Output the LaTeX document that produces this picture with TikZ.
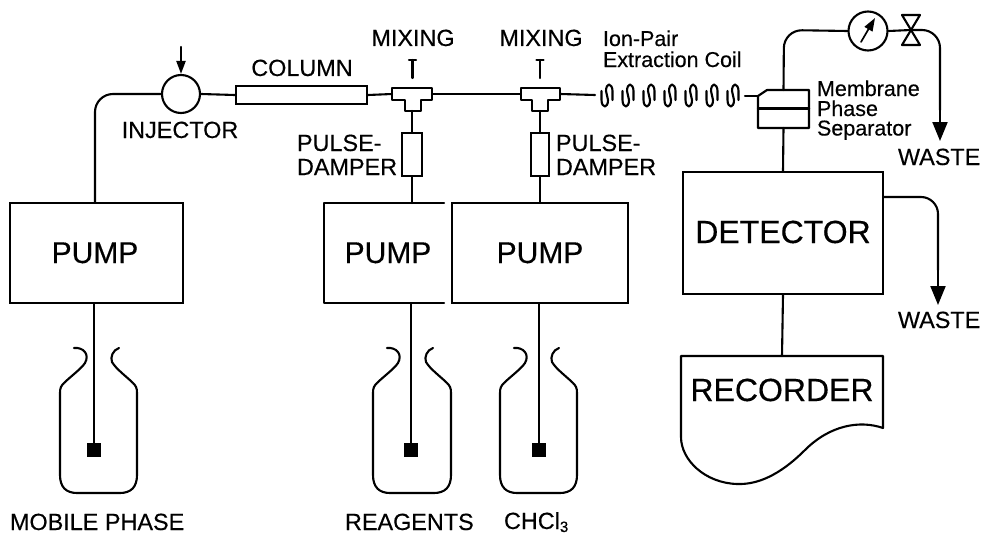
\documentclass[tikz,border=0pt]{standalone}
\usepackage{fontspec}
\setmainfont{Liberation Sans}[FakeBold=0.35]
\usetikzlibrary{arrows.meta}
\tikzset{
  pipe/.style={line width=2.1pt,line cap=round,line join=round},
  thinpipe/.style={line width=1.7pt},
  box/.style={draw,line width=2.1pt,inner sep=0pt},
  ghost/.style={inner sep=0pt,outer sep=0pt},
  lab/.style={inner sep=0pt,outer sep=0pt,anchor=base west,font=\fontsize{23.4}{26}\selectfont},
  labc/.style={inner sep=0pt,outer sep=0pt,anchor=base,font=\fontsize{23.4}{26}\selectfont},
  small/.style={inner sep=0pt,outer sep=0pt,anchor=base west,font=\fontsize{21.5}{24}\selectfont},
  big/.style={inner sep=0pt,outer sep=0pt,anchor=base,font=\fontsize{30}{32}\selectfont},
  huge/.style={inner sep=0pt,outer sep=0pt,anchor=base,font=\fontsize{32}{34}\selectfont},
  bighead/.style={-{Triangle[width=15pt,length=19pt]}},
  smallhead/.style={-{Triangle[width=9pt,length=13pt]}},
}
\newcommand{\mybottle}[3]{%
  % #1 left x, #2 right x, #3 name of weight
  \draw[pipe] ({#1+14},348) .. controls ({#1+23},347) and ({#1+30},354) .. ({#1+25},363)
    .. controls ({#1+21},369) and ({#1+10},377) .. ({#1+4},383)
    .. controls ({#1+1},386) and (#1,388) .. (#1,393) -- (#1,475)
    .. controls (#1,487) and ({#1+6},493) .. ({#1+17},493) -- ({#2-17},493)
    .. controls ({#2-6},493) and (#2,487) .. (#2,475) -- (#2,393)
    .. controls (#2,388) and ({#2-1},386) .. ({#2-4},383)
    .. controls ({#2-10},377) and ({#2-21},369) .. ({#2-25},362)
    .. controls ({#2-27},357) and ({#2-24},350) .. ({#2-18},348);
}
\newcommand{\mycoil}[1]{%
  \draw[pipe] ({#1-5.5},91) -- ({#1-5.5},100)
    .. controls ({#1-5.5},104.5) and ({#1-3.5},106.5) .. ({#1-2},106.5)
    .. controls ({#1-0.5},106.5) and ({#1+1},104) .. ({#1+1},100)
    -- ({#1-1},91)
    .. controls ({#1-1},87) and ({#1+0.5},84.5) .. ({#1+2},84.5)
    .. controls ({#1+3.5},84.5) and ({#1+5.5},87) .. ({#1+5.5},91) -- ({#1+5.5},100);
}
\begin{document}
\begin{tikzpicture}[x=1pt,y=-1pt]
\useasboundingbox (0,0) rectangle (985,535);
% pumps
\node[box,minimum width=173pt,minimum height=100pt] (pumpa) at (96.5,253) {};
\node[ghost,minimum width=120pt,minimum height=100pt] (pumpb) at (384,253) {};
\draw[pipe] (pumpb.north east) -- (pumpb.north west) -- (pumpb.south west) -- (pumpb.south east);
\node[box,minimum width=176pt,minimum height=100pt] (pumpc) at (540,253) {};
\node[big] (pumpatxt) at (95,263) {PUMP};
\node[big] (pumpbtxt) at (388,263) {PUMP};
\node[big] (pumpctxt) at (540,263) {PUMP};
% injector and column
\node[box,circle,minimum size=38pt] (inj) at (181,94) {};
\coordinate (injin) at (181,47);
\draw[pipe,smallhead] (injin) -- (inj.north);
\node[box,minimum width=131pt,minimum height=18pt] (col) at (301.5,95) {};
\draw[pipe,rounded corners=18pt] (inj.west) -- (95,94) -- (pumpa.north -| 95,203);
\draw[pipe] (inj.east) -- (col.west);
% mixing tees
\node[ghost,minimum width=40pt,minimum height=12pt] (teea) at (412,94) {};
\node[ghost,minimum width=40pt,minimum height=12pt] (teeb) at (540.5,94) {};
\draw[pipe] (392,88) -- (432,88) -- (432,100) -- (421,100) -- (421,111) -- (405,111) -- (405,100) -- (392,100) -- cycle;
\draw[pipe] (521,88) -- (560,88) -- (560,100) -- (548,100) -- (548,111) -- (532,111) -- (532,100) -- (521,100) -- cycle;
\coordinate (teeabot) at (412,111);
\coordinate (teebbot) at (540,111);
\draw[pipe] (col.east) -- (teea.west);
\draw[pipe] (teea.east) -- (teeb.west);
\coordinate (coilin) at (595,95);
\draw[pipe] (teeb.east) -- (coilin);
% mixing pins
\coordinate (pinatop) at (412.5,60);
\coordinate (pinabot) at (412.5,78);
\coordinate (pinbtop) at (540,60);
\coordinate (pinbbot) at (540,78);
\draw[pipe] (pinatop) -- (pinabot);
\draw[pipe] (409,60) -- (416,60);
\draw[pipe] (pinbtop) -- (pinbbot);
\draw[pipe] (536.5,60) -- (543.5,60);
% dampers
\node[box,minimum width=20pt,minimum height=43pt] (dampa) at (412,154.5) {};
\node[box,minimum width=18pt,minimum height=43pt] (dampb) at (540,154.5) {};
\draw[pipe] (teeabot) -- (dampa.north);
\draw[pipe] (teebbot) -- (dampb.north);
\draw[pipe] (dampa.south) -- (412,203);
\draw[pipe] (dampb.south) -- (pumpc.north);
% coil
\foreach \cx in {607,628,649,670,691,712,733}{\mycoil{\cx}}
\coordinate (coilout) at (745,96);
% separator
\node[ghost,minimum width=51pt,minimum height=38pt] (sep) at (783.5,109) {};
\draw[pipe] (758,96) -- (767,90) -- (809,90) -- (809,128) -- (758,128) -- cycle;
\draw[pipe,line width=2.4pt] (758,108.5) -- (809,108.5);
\draw[pipe] (coilout) -- (sep.west |- 0,96);
% gauge, valve
\node[box,circle,minimum size=39pt] (gauge) at (868,31) {};
\coordinate (gaugea) at (861,42);
\coordinate (gaugeb) at (875,18);
\draw[pipe,line width=1.7pt,smallhead] (gaugea) -- (gaugeb);
\node[ghost,minimum width=18pt,minimum height=30pt] (valve) at (911,30) {};
\draw[pipe] (902,15) -- (920,15) -- (902,45) -- (920,45) -- cycle;
\coordinate (wastea) at (940,141);
\draw[pipe,rounded corners=18pt] (sep.north) -- (784,30) -- (gauge.west);
\draw[pipe] (gauge.east) -- (valve.center);
\draw[pipe,rounded corners=18pt] (valve.center) -- (940,30) -- (940,110);
\draw[pipe,bighead,shorten >=0pt] (940,100) -- (wastea);
% detector
\node[box,minimum width=200pt,minimum height=122pt] (det) at (783,233) {};
\node[huge] (dettxt) at (783,243) {DETECTOR};
\draw[pipe] (sep.south) -- (det.north);
\coordinate (wasteb) at (938,305);
\draw[pipe,rounded corners=17pt] (det.east |- 0,197) -- (938,197) -- (938,270);
\draw[pipe,bighead] (938,260) -- (wasteb);
% recorder
\node[ghost,minimum width=202pt,minimum height=72pt] (rec) at (782,392) {};
\draw[pipe] (681,356) -- (883,356) -- (883,428)
  .. controls (860,420) and (830,425) .. (805,450)
  .. controls (785,470) and (762,485) .. (737,484)
  .. controls (705,483) and (681,460) .. (681,437) -- cycle;
\node[huge] (rectxt) at (782,401) {RECORDER};
\draw[pipe] (det.south) -- (rec.north);
% bottles
\mybottle{60}{137}{wa}
\mybottle{373}{451}{wb}
\mybottle{500}{577}{wc}
\node[fill=black,minimum size=14pt,inner sep=0pt] (wa) at (94,450) {};
\node[fill=black,minimum size=14pt,inner sep=0pt] (wb) at (411,450) {};
\node[fill=black,minimum size=14pt,inner sep=0pt] (wc) at (539,450) {};
\draw[pipe,thinpipe] (wa.north |- pumpa.south) -- (wa.north);
\draw[pipe,thinpipe] (wb.north |- pumpb.south) -- (wb.north);
\draw[pipe,thinpipe] (wc.north |- pumpc.south) -- (wc.north);
% labels
\node[labc] (tinj) at (180,138) {INJECTOR};
\node[labc] (tcol) at (302,76) {COLUMN};
\node[labc] (tmixa) at (413,46) {MIXING};
\node[labc] (tmixb) at (541,46) {MIXING};
\node[lab] (tpa) at (297,151) {PULSE-};
\node[lab] (tda) at (297,175) {DAMPER};
\node[lab] (tpb) at (556,151) {PULSE-};
\node[lab] (tdb) at (556,175) {DAMPER};
\node[small] (tion) at (603,46) {Ion-Pair};
\node[small] (text) at (603,67) {Extraction Coil};
\node[small] (tmem) at (817,96) {Membrane};
\node[small] (tpha) at (817,116) {Phase};
\node[small] (tsep) at (817,135.5) {Separator};
\node[lab] (twa) at (898,165) {WASTE};
\node[lab] (twb) at (898,328) {WASTE};
\node[lab] (tmob) at (10,530) {MOBILE PHASE};
\node[lab] (trea) at (345,530) {REAGENTS};
\node[lab] (tchc) at (504,529) {CHCl\raisebox{-3pt}{\fontsize{15}{16}\selectfont 3}};
\end{tikzpicture}
\end{document}
